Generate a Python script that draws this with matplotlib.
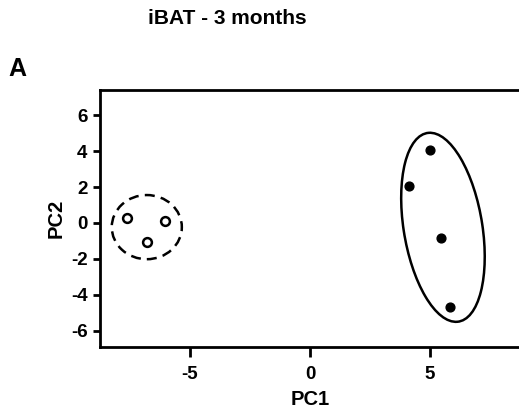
import matplotlib.pyplot as plt
from matplotlib.patches import Ellipse

plt.rcParams['font.family'] = ['Liberation Sans', 'DejaVu Sans']
plt.rcParams['font.weight'] = 'bold'

# PCA scores, two groups
open_pc1 = [-7.64, -6.04, -6.80]
open_pc2 = [0.26, 0.13, -1.04]
filled_pc1 = [5.00, 4.14, 5.46, 5.83]
filled_pc2 = [4.06, 2.06, -0.82, -4.70]

# group ellipses: (center x, center y, width, height, angle, linestyle)
ellipses = [
    (-6.80, -0.23, 2.92, 3.57, 0, (0, (4, 2.5))),
    (5.54, -0.24, 10.58, 3.29, 96.5, '-'),
]

xticks = [-5, 0, 5]
yticks = [-6, -4, -2, 0, 2, 4, 6]

fig = plt.figure(figsize=(5.19, 4.16), dpi=100)
ax = fig.add_axes([100 / 519, 69 / 416, 420 / 519, 257 / 416])

ax.scatter(open_pc1, open_pc2, s=40, facecolors='white', edgecolors='black',
           linewidths=1.8, zorder=3)
ax.scatter(filled_pc1, filled_pc2, s=40, color='black', zorder=3)

for cx, cy, w, h, ang, ls in ellipses:
    ax.add_patch(Ellipse((cx, cy), w, h, angle=ang, fill=False,
                         edgecolor='black', lw=1.8, linestyle=ls))

ax.set_xlim(-8.75, 8.75)
ax.set_ylim(-6.9, 7.4)
ax.set_xticks(xticks)
ax.set_yticks(yticks)
ax.set_xticklabels([str(t) for t in xticks], fontsize=13.5, fontweight='bold')
ax.set_yticklabels([str(t) for t in yticks], fontsize=13.5, fontweight='bold')
for s in ax.spines.values():
    s.set_linewidth(2)
ax.tick_params(axis='x', length=7.5, width=2, pad=6)
ax.tick_params(axis='y', length=5, width=2, pad=4)

ax.set_xlabel('PC1', fontsize=14.5, fontweight='bold', labelpad=5)
ax.set_ylabel('PC2', fontsize=14.5, fontweight='bold', labelpad=4)

fig.text(227 / 519, 1 - 19 / 416, 'iBAT - 3 months', ha='center', va='center',
         fontsize=15, fontweight='bold')
fig.text(8 / 519, 1 - 69 / 416, 'A', ha='left', va='center',
         fontsize=18, fontweight='bold')

fig.savefig('out.png', dpi=100)
